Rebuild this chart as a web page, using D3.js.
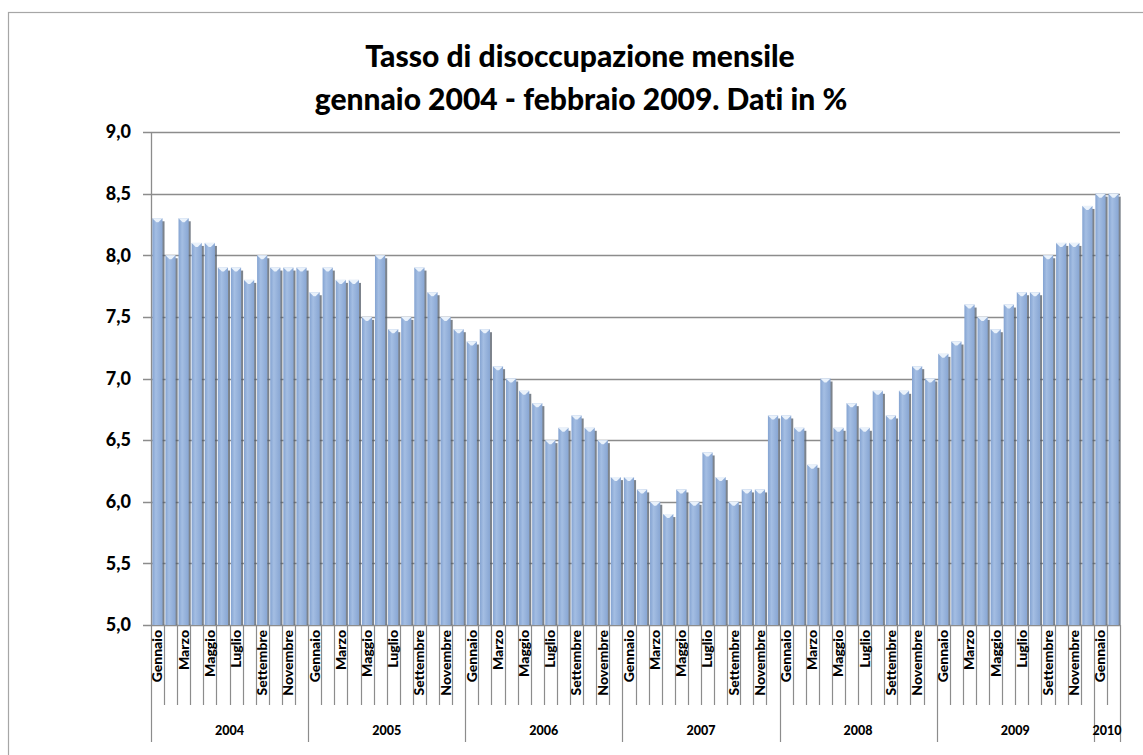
<!DOCTYPE html>
<html>
<head>
<meta charset="utf-8">
<script src="https://cdn.jsdelivr.net/npm/d3@7"></script>
<style>
  body { margin: 0; background: #fff; }
  text { font-family: Lato, "Open Sans", "Liberation Sans", sans-serif; font-variant-ligatures: none; }
</style>
</head>
<body>
<div id="chart"></div>
<script>
// Monthly unemployment rate (%), Jan 2004 - Feb 2010
const years = ["2004", "2005", "2006", "2007", "2008", "2009", "2010"];
const monthNames = ["Gennaio", "Febbraio", "Marzo", "Aprile", "Maggio", "Giugno",
  "Luglio", "Agosto", "Settembre", "Ottobre", "Novembre", "Dicembre"];
const monthsPerYear = [12, 12, 12, 12, 12, 12, 2];
const values = [
  8.3, 8.0, 8.3, 8.1, 8.1, 7.9, 7.9, 7.8, 8.0, 7.9, 7.9, 7.9,
  7.7, 7.9, 7.8, 7.8, 7.5, 8.0, 7.4, 7.5, 7.9, 7.7, 7.5, 7.4,
  7.3, 7.4, 7.1, 7.0, 6.9, 6.8, 6.5, 6.6, 6.7, 6.6, 6.5, 6.2,
  6.2, 6.1, 6.0, 5.9, 6.1, 6.0, 6.4, 6.2, 6.0, 6.1, 6.1, 6.7,
  6.7, 6.6, 6.3, 7.0, 6.6, 6.8, 6.6, 6.9, 6.7, 6.9, 7.1, 7.0,
  7.2, 7.3, 7.6, 7.5, 7.4, 7.6, 7.7, 7.7, 8.0, 8.1, 8.1, 8.4,
  8.5, 8.5
];
const yTicks = [5.0, 5.5, 6.0, 6.5, 7.0, 7.5, 8.0, 8.5, 9.0];

const W = 1143, H = 755;
const plot = { left: 151, right: 1120, top: 132, bottom: 625 };

// build one record per month
const data = [];
years.forEach((yr, yi) => {
  for (let m = 0; m < monthsPerYear[yi]; m++) {
    data.push({ year: yr, month: m, label: monthNames[m], value: values[data.length] });
  }
});
data.forEach((d, i) => d.i = i);

const svg = d3.select("#chart").append("svg")
  .attr("width", W).attr("height", H);

// outer chart border (runs off the right and bottom edge)
svg.append("rect")
  .attr("x", 8.5).attr("y", 12.5)
  .attr("width", 1150).attr("height", 760)
  .attr("fill", "#fff").attr("stroke", "#a6a6a6").attr("stroke-width", 1.2);

// title
const title = svg.append("text")
  .attr("text-anchor", "middle")
  .style("font-size", "30px").style("font-weight", "900").attr("fill", "#000");
title.append("tspan").attr("x", 580).attr("y", 67).text("Tasso di disoccupazione mensile");
title.append("tspan").attr("x", 581).attr("y", 110).text("gennaio 2004 - febbraio 2009. Dati in %");

const x = d3.scaleBand()
  .domain(data.map(d => d.i))
  .range([plot.left, plot.right])
  .paddingInner(0.22).paddingOuter(0.1);

const y = d3.scaleLinear().domain([5, 9]).range([plot.bottom, plot.top]);

// gradient for the bars
const defs = svg.append("defs");
const grad = defs.append("linearGradient").attr("id", "barGrad")
  .attr("x1", "0%").attr("x2", "100%").attr("y1", "0%").attr("y2", "0%");
grad.append("stop").attr("offset", "0%").attr("stop-color", "#84a3d1");
grad.append("stop").attr("offset", "35%").attr("stop-color", "#a4bee3");
grad.append("stop").attr("offset", "100%").attr("stop-color", "#88a6d3");

// gridlines
svg.append("g")
  .selectAll("line")
  .data(yTicks)
  .join("line")
  .attr("x1", plot.left - 8).attr("x2", plot.right)
  .attr("y1", d => Math.round(y(d)) + 0.5).attr("y2", d => Math.round(y(d)) + 0.5)
  .attr("stroke", "#8c8c8c").attr("stroke-width", 1.3);

// y labels
svg.append("g")
  .selectAll("text")
  .data(yTicks)
  .join("text")
  .attr("x", 131).attr("y", d => y(d))
  .attr("dy", "0.35em")
  .attr("text-anchor", "end")
  .style("font-size", "18px").style("font-weight", "900")
  .text(d => d3.format(".1f")(d).replace(".", ","));

// bar shadows
const bw = x.bandwidth();
svg.append("g")
  .selectAll("rect")
  .data(data)
  .join("rect")
  .attr("x", d => x(d.i) + 2)
  .attr("y", d => y(d.value) + 3)
  .attr("width", bw)
  .attr("height", d => y(5) - y(d.value) - 3)
  .attr("fill", "#505a66").attr("opacity", 0.75);

// bars
svg.append("g")
  .selectAll("rect")
  .data(data)
  .join("rect")
  .attr("x", d => x(d.i))
  .attr("y", d => y(d.value))
  .attr("width", bw)
  .attr("height", d => y(5) - y(d.value))
  .attr("fill", "url(#barGrad)");

// bevelled caps on top of bars
svg.append("g")
  .selectAll("path")
  .data(data)
  .join("path")
  .attr("d", d => {
    const x0 = x(d.i), yy = y(d.value);
    return `M${x0},${yy} L${x0 + bw},${yy} L${x0 + bw / 2 + 1},${yy + 4} L${x0 + bw / 2 - 1},${yy + 4} Z`;
  })
  .attr("fill", "#eaf2fb");

// y axis line
svg.append("line")
  .attr("x1", plot.left + 0.5).attr("x2", plot.left + 0.5)
  .attr("y1", plot.top).attr("y2", plot.bottom)
  .attr("stroke", "#8c8c8c").attr("stroke-width", 1.3);

// category axis: month separators
const edges = d3.range(data.length + 1).map(k => plot.left + k * (plot.right - plot.left) / data.length);
const yearStart = [];
let acc = 0;
monthsPerYear.forEach(n => { yearStart.push(acc); acc += n; });

svg.append("g")
  .selectAll("line")
  .data(edges)
  .join("line")
  .attr("x1", d => Math.round(d) + 0.5).attr("x2", d => Math.round(d) + 0.5)
  .attr("y1", plot.bottom)
  .attr("y2", (d, k) => (yearStart.includes(k) || k === data.length) ? 742 : 705)
  .attr("stroke", "#8c8c8c").attr("stroke-width", 1.2);

// month labels (every other month)
svg.append("g")
  .selectAll("text")
  .data(data.filter(d => d.month % 2 === 0))
  .join("text")
  .attr("transform", d => {
    const cx = (edges[d.i] + edges[d.i + 1]) / 2;
    return `translate(${cx},${plot.bottom + 5}) rotate(-90)`;
  })
  .attr("dy", "0.35em")
  .attr("text-anchor", "end")
  .style("font-size", "14px").style("font-weight", "900")
  .text(d => d.label);

// year labels
svg.append("g")
  .selectAll("text")
  .data(years)
  .join("text")
  .attr("x", (d, yi) => (edges[yearStart[yi]] + edges[yearStart[yi] + monthsPerYear[yi]]) / 2)
  .attr("y", 735)
  .attr("text-anchor", "middle")
  .style("font-size", "12.5px").style("font-weight", "900")
  .text(d => d);
</script>
</body>
</html>
